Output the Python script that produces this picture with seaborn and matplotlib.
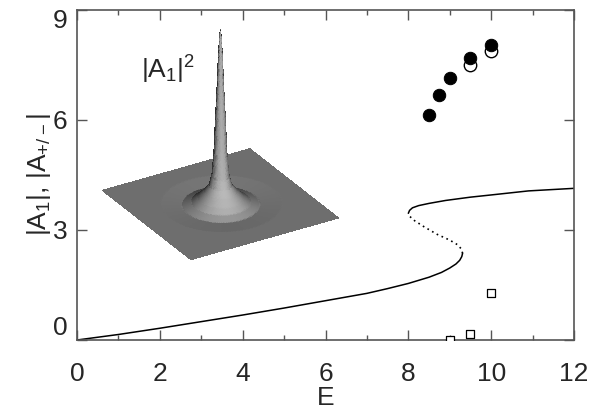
import matplotlib
matplotlib.use("Agg")
import matplotlib.pyplot as plt
import seaborn as sns
import numpy as np

# solid branches of the curve |A1| vs E
lower_E = [0, 1, 2, 3, 4, 5, 6, 7, 7.5, 8, 8.5, 8.8, 9, 9.15, 9.24, 9.29, 9.31]
lower_A = [0, 0.15, 0.32, 0.5, 0.68, 0.87, 1.07, 1.27, 1.4, 1.54, 1.71, 1.84, 1.96, 2.07, 2.17, 2.27, 2.36]
# unstable middle branch (dotted)
mid_E = [9.31, 9.28, 9.18, 9.0, 8.69, 8.37, 8.15, 8.04, 8.0]
mid_A = [2.36, 2.48, 2.6, 2.72, 2.88, 3.09, 3.25, 3.36, 3.45]
upper_E = [8.0, 8.03, 8.1, 8.25, 8.5, 8.9, 9.5, 10, 10.9, 12]
upper_A = [3.45, 3.53, 3.6, 3.66, 3.72, 3.8, 3.89, 3.95, 4.06, 4.13]

# simulation points
full_E = [8.5, 8.75, 9.0, 9.5, 10.0]
full_A = [6.13, 6.66, 7.14, 7.69, 8.04]
open_E = [9.5, 10.0]
open_A = [7.49, 7.88]
sq_E = [9.0, 9.5, 10.0]
sq_A = [0.0, 0.15, 1.27]

# radial profile of the |A1|^2 inset (plane half size = 1, peak = 1)
prof_r = [0, 0.01, 0.024, 0.039, 0.059, 0.075, 0.098, 0.13, 0.19, 0.27, 0.34, 0.45, 0.7, 1.5]
prof_z = [1, 0.96, 0.85, 0.67, 0.48, 0.30, 0.17, 0.11, 0.074, 0.037, 0.012, -0.006, 0, 0]

sns.set_style("ticks")
plt.rcParams["font.family"] = ["Liberation Sans", "DejaVu Sans"]
plt.rcParams["mathtext.fontset"] = "custom"
plt.rcParams["mathtext.rm"] = "Liberation Sans"
plt.rcParams["mathtext.default"] = "rm"

fig = plt.figure(figsize=(5.9, 4.13), dpi=100)
ax = fig.add_axes([77 / 590, 1 - 340 / 413, 497 / 590, 330.5 / 413])

sns.lineplot(x=lower_E, y=lower_A, sort=False, color="black", lw=1.1, ax=ax)
sns.lineplot(x=upper_E, y=upper_A, sort=False, color="black", lw=1.1, ax=ax)
sns.lineplot(x=mid_E, y=mid_A, sort=False, color="black", lw=1.2, ax=ax,
             linestyle=(0, (1, 2.2)))

sns.scatterplot(x=sq_E, y=sq_A, marker="s", s=38, facecolor="white",
                edgecolor="black", linewidth=0.9, ax=ax, zorder=3)
sns.scatterplot(x=open_E, y=open_A, marker="o", s=80, facecolor="white",
                edgecolor="black", linewidth=1.0, ax=ax, zorder=3)
sns.scatterplot(x=full_E, y=full_A, marker="o", s=80, color="black",
                edgecolor="black", ax=ax, zorder=4)

ax.set_xlim(0, 12)
ax.set_ylim(0, 9)
ax.set_xticks([0, 2, 4, 6, 8, 10, 12])
ax.set_xticks([1, 3, 5, 7, 9, 11], minor=True)
ax.set_yticks([0, 3, 6, 9])
ax.tick_params(which="both", direction="in", top=True, right=True,
               color="#555555", width=1)
ax.tick_params(which="major", length=7, labelsize=19)
ax.tick_params(which="minor", length=3.5)
ax.tick_params(axis="x", pad=16)
ax.tick_params(axis="y", pad=7)
ylabs = ax.get_yticklabels()
ylabs[0].set_va("bottom")
ylabs[-1].set_va("top")
for sp in ax.spines.values():
    sp.set_color("#555555")
    sp.set_linewidth(1.2)
ax.set_xlabel("E", fontsize=19, labelpad=0)
ax.set_ylabel("|A$_1$|, |A$_{+/-}$|", fontsize=19, labelpad=0)
ax.text(2.2, 7.35, "|A$_1$|$^2$", fontsize=19, ha="center", va="center")

# inset: surface of the localized peak
elev, azim, bz = 28, -31, 1.17
g = np.linspace(-1, 1, 181)
g = np.sign(g) * np.abs(g) ** 1.8
X, Y = np.meshgrid(g, g)
Z = np.interp(np.sqrt(X ** 2 + Y ** 2), prof_r, prof_z)
zlo, zhi = -0.02, 1.0
k = 2 * bz / (zhi - zlo)
Zy, Zx = np.gradient(Z, g, g)
nx, ny, nz = -k * Zx, -k * Zy, np.ones_like(Z)
nn = np.sqrt(nx ** 2 + ny ** 2 + nz ** 2)
la = np.radians(azim + 12)
le = np.radians(elev)
L = (np.cos(le) * np.cos(la), np.cos(le) * np.sin(la), np.sin(le))
inten = np.clip((nx * L[0] + ny * L[1] + nz * L[2]) / nn, 0, 1)
gray = 0.17 + 0.56 * inten
fc = np.dstack([gray, gray, gray, np.ones_like(gray)])

ins = fig.add_axes([0.070, 0.331, 0.593, 0.743], projection="3d")
ins.set_proj_type("ortho")
ins.view_init(elev=elev, azim=azim)
ins.plot_surface(X, Y, Z, facecolors=fc, shade=False,
                 rstride=1, cstride=1, linewidth=0, antialiased=False)
ins.set_box_aspect((1, 1, bz))
ins.set_xlim(-1, 1)
ins.set_ylim(-1, 1)
ins.set_zlim(zlo, zhi)
ins.set_axis_off()
ins.patch.set_alpha(0)

fig.savefig("out.png", dpi=100)
